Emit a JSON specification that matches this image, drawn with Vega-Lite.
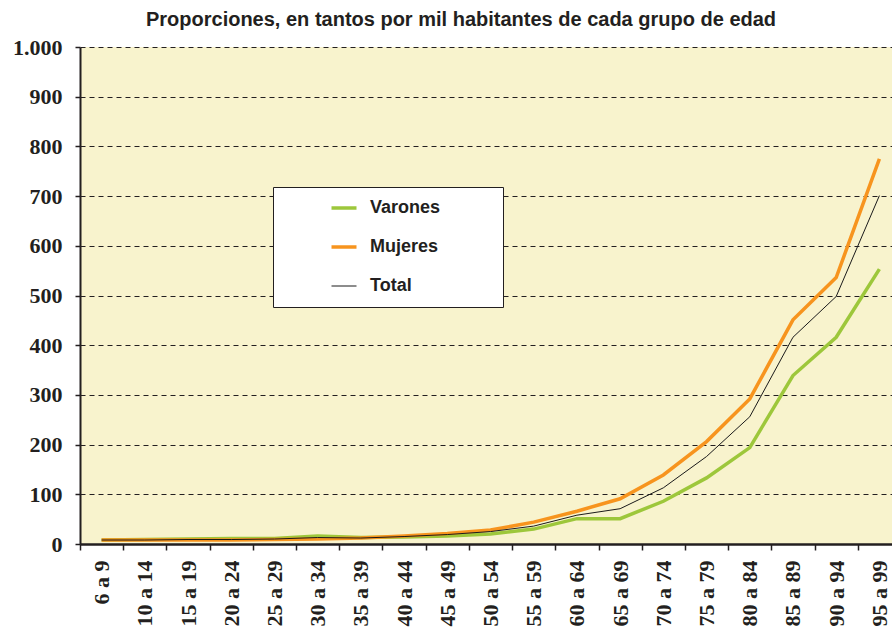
{
  "$schema": "https://vega.github.io/schema/vega-lite/v6.json",
  "autosize": {"type": "none"},
  "width": 812,
  "height": 497,
  "padding": {"left": 80, "top": 47, "right": 0, "bottom": 91},
  "background": "white",
  "title": {
    "text": "Proporciones, en tantos por mil habitantes de cada grupo de edad",
    "font": "Liberation Sans",
    "fontSize": 20,
    "fontWeight": "bold",
    "color": "#231f20",
    "anchor": "middle",
    "dx": -25,
    "offset": 6
  },
  "config": {"view": {"fill": "#f8f3cd", "stroke": null}},
  "data": {
    "values": [
      {"serie": "Varones", "edad": "6 a 9", "valor": 8},
      {"serie": "Varones", "edad": "10 a 14", "valor": 9},
      {"serie": "Varones", "edad": "15 a 19", "valor": 10},
      {"serie": "Varones", "edad": "20 a 24", "valor": 11},
      {"serie": "Varones", "edad": "25 a 29", "valor": 11},
      {"serie": "Varones", "edad": "30 a 34", "valor": 16},
      {"serie": "Varones", "edad": "35 a 39", "valor": 13},
      {"serie": "Varones", "edad": "40 a 44", "valor": 14},
      {"serie": "Varones", "edad": "45 a 49", "valor": 16},
      {"serie": "Varones", "edad": "50 a 54", "valor": 20},
      {"serie": "Varones", "edad": "55 a 59", "valor": 30},
      {"serie": "Varones", "edad": "60 a 64", "valor": 51},
      {"serie": "Varones", "edad": "65 a 69", "valor": 51},
      {"serie": "Varones", "edad": "70 a 74", "valor": 86},
      {"serie": "Varones", "edad": "75 a 79", "valor": 133},
      {"serie": "Varones", "edad": "80 a 84", "valor": 194},
      {"serie": "Varones", "edad": "85 a 89", "valor": 339},
      {"serie": "Varones", "edad": "90 a 94", "valor": 416},
      {"serie": "Varones", "edad": "95 a 99", "valor": 553},
      {"serie": "Mujeres", "edad": "6 a 9", "valor": 8},
      {"serie": "Mujeres", "edad": "10 a 14", "valor": 8},
      {"serie": "Mujeres", "edad": "15 a 19", "valor": 8},
      {"serie": "Mujeres", "edad": "20 a 24", "valor": 8},
      {"serie": "Mujeres", "edad": "25 a 29", "valor": 9},
      {"serie": "Mujeres", "edad": "30 a 34", "valor": 10},
      {"serie": "Mujeres", "edad": "35 a 39", "valor": 12},
      {"serie": "Mujeres", "edad": "40 a 44", "valor": 16},
      {"serie": "Mujeres", "edad": "45 a 49", "valor": 21},
      {"serie": "Mujeres", "edad": "50 a 54", "valor": 28},
      {"serie": "Mujeres", "edad": "55 a 59", "valor": 44},
      {"serie": "Mujeres", "edad": "60 a 64", "valor": 66},
      {"serie": "Mujeres", "edad": "65 a 69", "valor": 91},
      {"serie": "Mujeres", "edad": "70 a 74", "valor": 139},
      {"serie": "Mujeres", "edad": "75 a 79", "valor": 206},
      {"serie": "Mujeres", "edad": "80 a 84", "valor": 292},
      {"serie": "Mujeres", "edad": "85 a 89", "valor": 451},
      {"serie": "Mujeres", "edad": "90 a 94", "valor": 536},
      {"serie": "Mujeres", "edad": "95 a 99", "valor": 775},
      {"serie": "Total", "edad": "6 a 9", "valor": 8},
      {"serie": "Total", "edad": "10 a 14", "valor": 8},
      {"serie": "Total", "edad": "15 a 19", "valor": 9},
      {"serie": "Total", "edad": "20 a 24", "valor": 9},
      {"serie": "Total", "edad": "25 a 29", "valor": 10},
      {"serie": "Total", "edad": "30 a 34", "valor": 13},
      {"serie": "Total", "edad": "35 a 39", "valor": 12},
      {"serie": "Total", "edad": "40 a 44", "valor": 15},
      {"serie": "Total", "edad": "45 a 49", "valor": 19},
      {"serie": "Total", "edad": "50 a 54", "valor": 25},
      {"serie": "Total", "edad": "55 a 59", "valor": 36},
      {"serie": "Total", "edad": "60 a 64", "valor": 58},
      {"serie": "Total", "edad": "65 a 69", "valor": 71},
      {"serie": "Total", "edad": "70 a 74", "valor": 113},
      {"serie": "Total", "edad": "75 a 79", "valor": 176},
      {"serie": "Total", "edad": "80 a 84", "valor": 256},
      {"serie": "Total", "edad": "85 a 89", "valor": 416},
      {"serie": "Total", "edad": "90 a 94", "valor": 498},
      {"serie": "Total", "edad": "95 a 99", "valor": 701}
    ]
  },
  "mark": {"type": "line", "strokeJoin": "miter"},
  "encoding": {
    "x": {
      "field": "edad",
      "type": "nominal",
      "sort": null,
      "scale": {"type": "band", "paddingInner": 0, "paddingOuter": 0, "range": [0, 821]},
      "axis": {
        "title": null,
        "tickBand": "extent",
        "grid": false,
        "domainColor": "#231f20",
        "domainWidth": 2.5,
        "tickColor": "#231f20",
        "tickSize": 6,
        "tickWidth": 1.5,
        "labelAngle": 270,
        "labelAlign": "right",
        "labelBaseline": "middle",
        "labelFont": "Liberation Serif",
        "labelFontSize": 22,
        "labelFontWeight": "bold",
        "labelColor": "#231f20",
        "labelPadding": 10,
        "labelOverlap": false,
        "labelBound": false
      }
    },
    "y": {
      "field": "valor",
      "type": "quantitative",
      "scale": {"domain": [0, 1000], "nice": false},
      "axis": {
        "title": null,
        "values": [0, 100, 200, 300, 400, 500, 600, 700, 800, 900, 1000],
        "grid": true,
        "gridColor": "#231f20",
        "gridDash": [5, 4],
        "gridWidth": 1,
        "domainColor": "#231f20",
        "domainWidth": 2,
        "tickColor": "#231f20",
        "tickSize": 5,
        "tickWidth": 1.5,
        "labelFont": "Liberation Serif",
        "labelFontSize": 22,
        "labelFontWeight": "bold",
        "labelColor": "#231f20",
        "labelPadding": 13,
        "labelBound": false,
        "labelExpr": "datum.value == 1000 ? '1.000' : datum.label"
      }
    },
    "color": {
      "field": "serie",
      "type": "nominal",
      "scale": {"domain": ["Varones", "Mujeres", "Total"], "range": ["#9dc73b", "#f7941e", "#1a1a1a"]},
      "legend": {
        "title": null,
        "orient": "none",
        "legendX": 193,
        "legendY": 140,
        "fillColor": "white",
        "strokeColor": "#231f20",
        "padding": 12,
        "rowPadding": 21,
        "symbolType": "stroke",
        "symbolSize": 625,
        "symbolOffset": 50,
        "labelOffset": 17,
        "labelFont": "Liberation Sans",
        "labelFontSize": 18,
        "labelFontWeight": "bold",
        "labelColor": "#231f20",
        "labelExpr": "datum.label + '\u00a0\u00a0\u00a0\u00a0\u00a0\u00a0\u00a0\u00a0\u00a0\u00a0\u200b'",
        "encode": {
          "symbols": {
            "update": {
              "strokeWidth": {"signal": "datum.value == 'Total' ? 1 : 3.5"}
            }
          }
        }
      }
    },
    "strokeWidth": {
      "condition": {"test": "datum.serie == 'Total'", "value": 1},
      "value": 3.5
    }
  }
}
